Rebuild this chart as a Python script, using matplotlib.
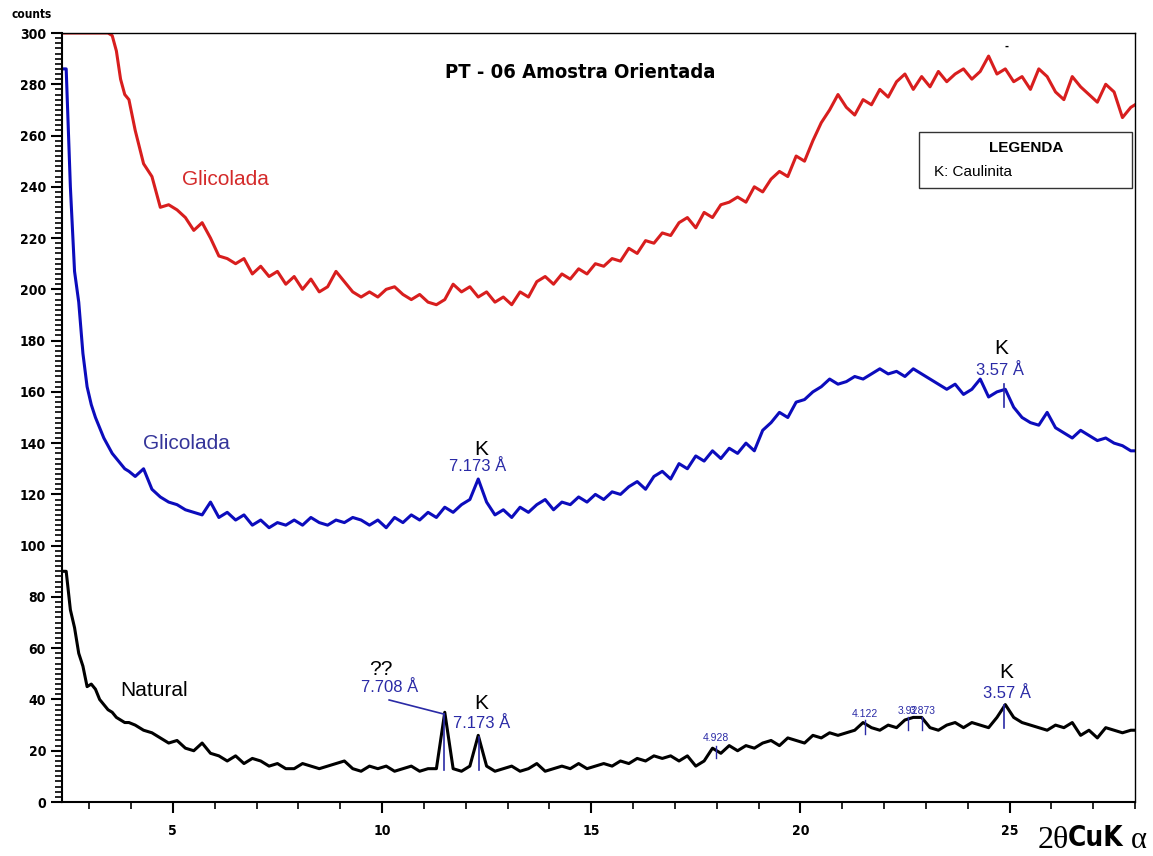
import matplotlib.pyplot as plt
import numpy as np

# 2theta grid: fine steps at the start, then 0.2 deg
theta_a = [2.35, 2.45, 2.55, 2.65, 2.75, 2.85, 2.95, 3.05, 3.15, 3.25,
           3.35, 3.45, 3.55, 3.65, 3.75, 3.85, 3.95]
theta_b = list(np.round(np.arange(4.1, 27.95, 0.2), 2)) + [28.0]
theta = np.array(theta_a + theta_b)

# Glicolada (vermelho)
red_a = [300, 300, 300, 300, 300, 300, 300, 300, 300, 300,
         300, 300, 299, 293, 282, 276, 274]
red_b = [262, 249, 244, 232, 233, 231, 228, 223, 226, 220,
         213, 212, 210, 212, 206, 209, 205, 207, 202, 205,
         200, 204, 199, 201, 207, 203, 199, 197, 199, 197,
         200, 201, 198, 196, 198, 195, 194, 196, 202, 199,
         201, 197, 199, 195, 197, 194, 199, 197, 203, 205,
         202, 206, 204, 208, 206, 210, 209, 212, 211, 216,
         214, 219, 218, 222, 221, 226, 228, 224, 230, 228,
         233, 234, 236, 234, 240, 238, 243, 246, 244, 252,
         250, 258, 265, 270, 276, 271, 268, 274, 272, 278,
         275, 281, 284, 278, 283, 279, 285, 281, 284, 286,
         282, 285, 291, 284, 286, 281, 283, 278, 286, 283,
         277, 274, 283, 279, 276, 273, 280, 277, 267, 271,
         272]

# Glicolada (azul)
blue_a = [286, 286, 240, 207, 195, 175, 162, 155, 150, 146,
          142, 139, 136, 134, 132, 130, 129]
blue_b = [127, 130, 122, 119, 117, 116, 114, 113, 112, 117,
          111, 113, 110, 112, 108, 110, 107, 109, 108, 110,
          108, 111, 109, 108, 110, 109, 111, 110, 108, 110,
          107, 111, 109, 112, 110, 113, 111, 115, 113, 116,
          118, 126, 117, 112, 114, 111, 115, 113, 116, 118,
          114, 117, 116, 119, 117, 120, 118, 121, 120, 123,
          125, 122, 127, 129, 126, 132, 130, 135, 133, 137,
          134, 138, 136, 140, 137, 145, 148, 152, 150, 156,
          157, 160, 162, 165, 163, 164, 166, 165, 167, 169,
          167, 168, 166, 169, 167, 165, 163, 161, 163, 159,
          161, 165, 158, 160, 161, 154, 150, 148, 147, 152,
          146, 144, 142, 145, 143, 141, 142, 140, 139, 137,
          137]

# Natural
black_a = [90, 90, 75, 68, 58, 53, 45, 46, 44, 40,
           38, 36, 35, 33, 32, 31, 31]
black_b = [30, 28, 27, 25, 23, 24, 21, 20, 23, 19,
           18, 16, 18, 15, 17, 16, 14, 15, 13, 13,
           15, 14, 13, 14, 15, 16, 13, 12, 14, 13,
           14, 12, 13, 14, 12, 13, 13, 35, 13, 12,
           14, 26, 14, 12, 13, 14, 12, 13, 15, 12,
           13, 14, 13, 15, 13, 14, 15, 14, 16, 15,
           17, 16, 18, 17, 18, 16, 18, 14, 16, 21,
           19, 22, 20, 22, 21, 23, 24, 22, 25, 24,
           23, 26, 25, 27, 26, 27, 28, 31, 29, 28,
           30, 29, 32, 33, 33, 29, 28, 30, 31, 29,
           31, 30, 29, 33, 38, 33, 31, 30, 29, 28,
           30, 29, 31, 26, 28, 25, 29, 28, 27, 28,
           28]

red = np.array(red_a + red_b)
blue = np.array(blue_a + blue_b)
black = np.array(black_a + black_b)

# picos marcados (2theta, d)
small_peaks = [17.98, 21.54, 22.58, 22.92]
small_labels = ["4.928", "4.122", "3.92", "3.873"]

cond = dict(family='DejaVu Sans', stretch='condensed')
sans = ['Liberation Sans', 'DejaVu Sans']
serif = ['Liberation Serif', 'DejaVu Serif']
c_ann = '#2a2aa6'

fig = plt.figure(figsize=(11.53, 8.56), dpi=100)
ax = fig.add_axes([62/1153, 54/856, 1073/1153, 769/856])

ax.plot(theta, red, color='#d81e1e', lw=2.2)
ax.plot(theta, blue, color='#0c0cbc', lw=2.2)
ax.plot(theta, black, color='black', lw=2.2)

ax.set_xlim(2.35, 28)
ax.set_ylim(0, 300)
ax.set_xticks([5, 10, 15, 20, 25])
ax.set_xticks(np.arange(3, 29, 1), minor=True)
ax.set_yticks(np.arange(0, 301, 20))
ax.set_yticks(np.arange(0, 301, 2), minor=True)
ax.tick_params(axis='both', which='major', direction='out', length=8, width=1.5,
               labelsize=10)
ax.tick_params(axis='both', which='minor', direction='out', length=5, width=1.2)
ax.tick_params(axis='x', pad=8)
for lab in ax.get_xticklabels() + ax.get_yticklabels():
    lab.set_fontweight('bold')
    lab.set_family('DejaVu Sans')
    lab.set_stretch('condensed')
for s in ax.spines.values():
    s.set_linewidth(1.5)
ax.spines['top'].set_linewidth(1.0)
ax.spines['right'].set_linewidth(1.0)

# titulo e rotulos
ax.text(0.483, 0.948, "PT - 06 Amostra Orientada", transform=ax.transAxes,
        ha='center', va='center', fontsize=14.5, fontweight='bold', **cond)
fig.text(12/1153, 1 - 15/856, "counts", ha='left', va='center', fontsize=8.5,
         fontweight='bold', **cond)
fig.text(1038/1153, 1 - 840/856, "2θ", ha='left', va='center', fontsize=23, family=serif)
fig.text(1068/1153, 1 - 838/856, "CuK", ha='left', va='center', fontsize=20,
         fontweight='bold', **cond)
fig.text(1131/1153, 1 - 840/856, "α", ha='left', va='center', fontsize=22, family=serif)

ax.text(6.25, 243, "Glicolada", color='#d42a2a', fontsize=15, ha='center', va='center', family=sans)
ax.text(5.33, 140, "Glicolada", color='#35359a', fontsize=15, ha='center', va='center', family=sans)
ax.text(4.55, 43.5, "Natural", color='black', fontsize=15, ha='center', va='center', family=sans)

# legenda
ax.add_patch(plt.Rectangle((0.799, 0.798), 0.198, 0.073, transform=ax.transAxes,
                           fill=False, edgecolor='#333333', lw=1.0))
ax.text(0.8985, 0.850, "LEGENDA", transform=ax.transAxes, ha='center', va='center',
        fontsize=11, fontweight='bold', family=sans)
ax.text(0.813, 0.819, "K: Caulinita", transform=ax.transAxes, ha='left', va='center',
        fontsize=11, family=sans)
ax.text(24.92, 294.5, "-", ha='center', va='center', fontsize=7, fontweight='bold')

# anotacoes - Glicolada azul
ax.text(12.38, 137.5, "K", fontsize=15, ha='center', va='center', family=sans)
ax.text(12.28, 131, "7.173 Å", fontsize=12, color=c_ann, ha='center', va='center', family=sans)
ax.text(24.81, 177, "K", fontsize=15, ha='center', va='center', family=sans)
ax.text(24.78, 168.5, "3.57 Å", fontsize=12, color=c_ann, ha='center', va='center', family=sans)
ax.plot([24.86, 24.86], [154, 163], color=c_ann, lw=1.2)

# anotacoes - Natural
ax.text(9.98, 51.5, "??", fontsize=15, ha='center', va='center', family=sans)
ax.text(10.17, 44.5, "7.708 Å", fontsize=12, color=c_ann, ha='center', va='center', family=sans)
ax.plot([10.17, 11.48], [39.8, 34.3], color=c_ann, lw=1.2)
ax.plot([11.48, 11.48], [12.5, 34.3], color=c_ann, lw=1.2)
ax.text(12.38, 38.6, "K", fontsize=15, ha='center', va='center', family=sans)
ax.text(12.38, 30.6, "7.173 Å", fontsize=12, color=c_ann, ha='center', va='center', family=sans)
ax.plot([12.33, 12.33], [12.5, 25.4], color=c_ann, lw=1.2)
ax.text(24.92, 50.7, "K", fontsize=15, ha='center', va='center', family=sans)
ax.text(24.95, 42.5, "3.57 Å", fontsize=12, color=c_ann, ha='center', va='center', family=sans)
ax.plot([24.88, 24.88], [29, 38], color=c_ann, lw=1.2)

small_y = [24.8, 34.3, 35.6, 35.6]
line_lo = [17.2, 26.5, 28, 28]
line_hi = [22, 32, 33, 33]
for xp, lab, yt, lo, hi in zip(small_peaks, small_labels, small_y, line_lo, line_hi):
    ax.text(xp, yt, lab, fontsize=7.5, color=c_ann, ha='center', va='center', family=sans)
    ax.plot([xp, xp], [lo, hi], color=c_ann, lw=1.0)

plt.savefig("out.png", dpi=100)
